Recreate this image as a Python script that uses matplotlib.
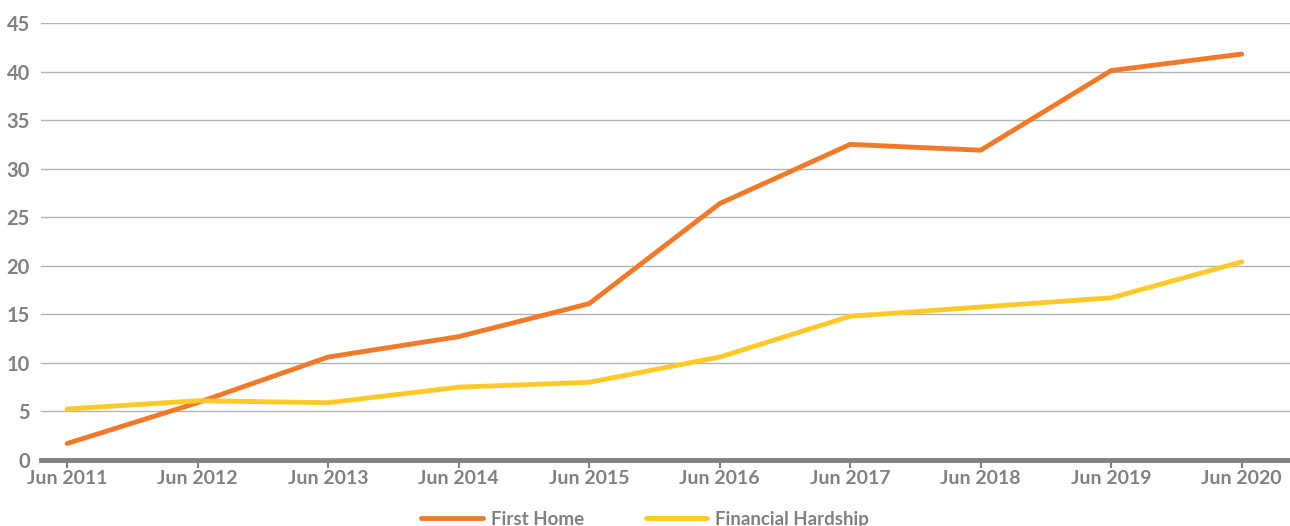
import matplotlib
matplotlib.use("Agg")
import matplotlib.pyplot as plt

years = ["Jun 2011", "Jun 2012", "Jun 2013", "Jun 2014", "Jun 2015",
         "Jun 2016", "Jun 2017", "Jun 2018", "Jun 2019", "Jun 2020"]
first_home = [1.7, 5.9, 10.6, 12.7, 16.1, 26.4, 32.5, 31.9, 40.1, 41.8]
financial_hardship = [5.25, 6.1, 5.9, 7.5, 8.0, 10.6, 14.8, 15.75, 16.7, 20.4]
yticks = [0, 5, 10, 15, 20, 25, 30, 35, 40, 45]

orange = "#F07A2A"
yellow = "#FFC929"
gray = "#808085"

plt.rcParams['font.family'] = ['Lato', 'DejaVu Sans']

fig = plt.figure(figsize=(12.9, 5.26), dpi=100)
ax = fig.add_axes([41/1290, 1-460/526, 1-41/1290, (460-23)/526])

x = list(range(len(years)))
l1, = ax.plot(x, first_home, color=orange, lw=3.5, solid_capstyle='round', label="First Home", zorder=3)
l2, = ax.plot(x, financial_hardship, color=yellow, lw=3.5, solid_capstyle='round', label="Financial Hardship", zorder=3)

ax.set_xlim(-0.2, 9.37)
ax.set_ylim(0, 45)
ax.set_yticks(yticks)
ax.set_xticks(x)
ax.set_xticklabels(years)
ax.grid(axis='y', color='#b3b3b3', lw=1)
ax.set_axisbelow(True)
for s in ['top', 'right', 'left']:
    ax.spines[s].set_visible(False)
ax.spines['bottom'].set_color(gray)
ax.spines['bottom'].set_linewidth(3.5)
ax.spines['bottom'].set_zorder(2)
ax.tick_params(axis='y', length=0, pad=8, labelsize=14.5, labelcolor=gray)
ax.tick_params(axis='x', length=6, width=1.5, color=gray, pad=1, labelsize=14, labelcolor=gray)
for t in ax.get_xticklabels() + ax.get_yticklabels():
    t.set_fontweight('bold')

leg = fig.legend(handles=[l1, l2], loc='lower center', bbox_to_anchor=(0.5, -0.035),
                 ncol=2, frameon=False, handlelength=3.3, columnspacing=3.3,
                 handletextpad=0.4, prop={'family': ['Lato', 'DejaVu Sans'], 'size': 13.5, 'weight': 'bold'})
for t in leg.get_texts():
    t.set_color(gray)
    t.set_fontweight('bold')

fig.savefig("out.png", dpi=100)
